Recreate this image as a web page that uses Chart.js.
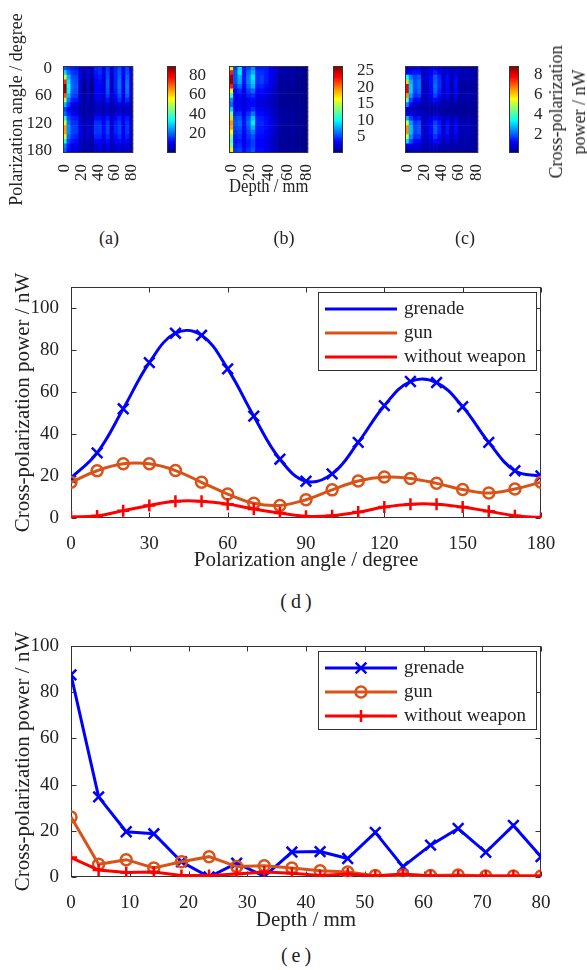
<!DOCTYPE html>
<html>
<head>
<meta charset="utf-8">
<title>Cross-polarization power</title>
<script src="https://cdn.jsdelivr.net/npm/chart.js@4.4.1/dist/chart.umd.min.js"></script>
<style>
html,body{margin:0;padding:0;background:#fff;}
#page{position:relative;width:587px;height:970px;overflow:hidden;background:#fff;font-family:'Liberation Serif','Times New Roman',serif;color:#222;}
#page canvas{position:absolute;}
.lbl{position:absolute;white-space:nowrap;line-height:1;transform:translate(-50%,-50%);}
</style>
</head>
<body>
<div id="page">
  <canvas id="hmA" width="155" height="215" style="left:0px;top:0px"></canvas>
  <canvas id="cbA" width="50" height="200" style="left:160px;top:0px"></canvas>
  <canvas id="hmB" width="140" height="200" style="left:190px;top:0px"></canvas>
  <canvas id="cbB" width="50" height="200" style="left:326px;top:0px"></canvas>
  <canvas id="hmC" width="130" height="200" style="left:370px;top:0px"></canvas>
  <canvas id="cbC" width="45" height="200" style="left:502px;top:0px"></canvas>
  <div class="lbl" style="left:568px;top:112px;font-size:18px;line-height:23px;text-align:center;transform:translate(-50%,-50%) rotate(-90deg)">Cross-polarization<br>power / nW</div>
  <div class="lbl" style="left:109px;top:238px;font-size:18px">(a)</div>
  <div class="lbl" style="left:284px;top:238px;font-size:18px">(b)</div>
  <div class="lbl" style="left:465px;top:238px;font-size:18px">(c)</div>
  <canvas id="chartD" width="587" height="313" style="left:0px;top:260px"></canvas>
  <div class="lbl" style="left:298px;top:601px;font-size:20px;letter-spacing:4px">(d)</div>
  <canvas id="chartE" width="587" height="313" style="left:0px;top:620px"></canvas>
  <div class="lbl" style="left:298px;top:955px;font-size:20px;letter-spacing:4px">(e)</div>
</div>
<script>
// ---------------- data ----------------
const seriesNames = ['grenade', 'gun', 'without weapon'];

// heat maps (a)(b)(c): rows = polarization angle, columns = depth
const heatAngles = [0,10,20,30,40,50,60,70,80,90,100,110,120,130,140,150,160,170,180];
const heatDepths = [0,4.7,9.4,14.1,18.8,23.5,28.2,32.9,37.6,42.4,47.1,51.8,56.5,61.2,65.9,70.6,75.3,80];
const angleTicks = [0,60,120,180];
const depthTicks = [0,20,40,60,80];

const grenadeMap = [
  [19,16,14,13,8,5,7,6,14,15,10,16,8,14,18,12,17,9],
  [31,20,16,15,8,4,7,5,13,15,10,17,7,14,19,12,18,9],
  [52,27,18,17,8,3,7,4,12,13,9,18,6,14,20,11,20,9],
  [74,32,19,18,7,2,6,2,11,12,8,19,5,14,21,11,21,9],
  [88,35,20,19,7,0,6,0,11,11,8,19,5,14,21,11,22,9],
  [87,33,19,18,7,1,6,1,11,11,8,18,5,13,20,10,21,8],
  [71,28,17,16,6,2,6,2,10,10,7,16,5,12,18,10,19,8],
  [48.5,22,14,13,6,3,5,3,9,9,6,13,5,10,15,8,15,7],
  [28,16,10,9,5,3,4,3,6,6,5,8,4,7,9,6,9,5],
  [17.5,12,8,7,4,3,4,3,5,5,4,6,4,5,6,5,6,4],
  [21,14,10,9,5,3,4,3,7,7,5,8,4,7,9,6,8,5],
  [36,18,14,13,7,4,5,4,12,12,9,13,6,11,14,9,13,7],
  [53.5,22,16,15,8,5,6,5,15,15,11,16,7,13,16,10,15,8],
  [65,24,17,16,9,5,7,6,16,16,12,17,7,14,17,11,16,8],
  [64.5,24,17,16,9,5,7,6,16,16,12,17,7,14,17,11,16,8],
  [53,21,15,14,8,5,6,5,14,14,10,15,7,12,15,10,14,7],
  [36,17,13,12,7,4,5,4,11,11,8,12,6,10,12,8,11,6],
  [22.5,13,10,9,6,4,4,3,8,8,6,9,5,7,9,6,8,5],
  [20,12,9,8,5,3,4,3,7,7,5,8,4,6,8,5,7,4]
];
const gunMap = [
  [17,5,9,4,5,7,4,4,4,3,2.5,1.2,1.2,1,1.2,0.8,0.8,0.6],
  [22.5,5.5,9.5,4,6,8,4.5,4.5,4,3,2.5,1,1.2,0.9,1.1,0.7,0.7,0.5],
  [25.8,5.5,8,4,6.6,9.5,4.5,5,4,2.8,2.3,0.7,1,0.7,1,0.5,0.5,0.4],
  [25.8,5.5,7.5,3.9,6.6,8.8,4.5,4.9,3.9,2.7,2.2,0.6,0.9,0.6,0.9,0.4,0.4,0.4],
  [22.6,4.5,6,3.5,6,8,4,4.2,3.5,2.5,2,0.6,0.8,0.6,0.8,0.4,0.4,0.4],
  [17,3.5,4.5,3,5,6,3.5,3.5,3,2.2,1.8,0.6,0.7,0.5,0.7,0.4,0.4,0.4],
  [11.4,3,3.5,2.5,4,4.5,3,3,2.5,2,1.5,0.6,0.6,0.5,0.6,0.4,0.4,0.4],
  [7,2.5,3,2.2,3,3.5,2.5,2.5,2.2,1.8,1.4,0.6,0.6,0.5,0.6,0.4,0.4,0.4],
  [6,2.5,3,2.2,3,3.5,2.5,2.5,2.2,1.8,1.4,0.6,0.6,0.5,0.6,0.4,0.4,0.4],
  [8.7,3,3.5,2.5,3.5,4.5,3,3,2.5,2,1.5,0.7,0.7,0.5,0.7,0.5,0.4,0.4],
  [13.4,4,4.5,3,4.5,6.5,3.5,3.5,3,2.2,1.7,0.8,0.8,0.6,0.8,0.5,0.5,0.4],
  [17.6,5,5.5,3.5,5.5,8.5,4,4,3.5,2.5,2,0.9,0.9,0.7,0.9,0.5,0.5,0.5],
  [19.5,5.5,6,3.8,6,9.5,4.2,4.3,3.6,2.6,2.1,0.9,0.9,0.7,0.9,0.5,0.5,0.5],
  [18.8,5,5.5,3.6,5.5,8,4,4,3.5,2.5,2,0.9,0.9,0.7,0.9,0.5,0.5,0.5],
  [16.5,4.5,5,3.4,5,6.5,3.8,3.8,3.3,2.4,1.9,0.8,0.8,0.6,0.8,0.5,0.5,0.4],
  [13.6,4,4.5,3.2,4.5,5.5,3.5,3.5,3,2.2,1.8,0.8,0.8,0.6,0.8,0.5,0.5,0.4],
  [11.9,3.5,4,3,4,5,3.2,3.2,2.8,2,1.6,0.7,0.7,0.5,0.7,0.4,0.4,0.4],
  [13.8,4,4.5,3.2,4,5,3.2,3.2,2.8,2,1.6,0.7,0.7,0.5,0.7,0.4,0.4,0.4],
  [17,4.5,5,3.5,4.5,5.5,3.5,3.5,3,2.2,1.8,0.8,0.8,0.6,0.8,0.5,0.5,0.4]
];
const noWeaponMap = [
  [0.5,0.9,1.1,1.1,0.7,0.8,1.0,1.1,0.9,0.7,0.9,0.6,0.8,0.6,0.6,0.6,0.5,0.5],
  [1.0,1.3,1.4,1.4,0.8,0.9,1.1,1.5,1.1,0.7,1.0,0.6,0.9,0.6,0.6,0.6,0.5,0.5],
  [3.5,2.3,1.8,2.0,0.8,0.9,1.3,2.0,1.5,0.8,1.3,0.6,1.2,0.6,0.6,0.6,0.6,0.5],
  [6.0,2.8,1.9,2.2,0.7,0.8,1.3,2.1,1.6,0.7,1.3,0.5,1.3,0.5,0.5,0.5,0.5,0.5],
  [8.0,3.0,1.9,2.2,0.7,0.7,1.3,2.2,1.6,0.7,1.3,0.4,1.3,0.4,0.4,0.4,0.4,0.4],
  [8.0,3.0,1.8,2.1,0.7,0.7,1.3,2.1,1.5,0.7,1.2,0.5,1.2,0.5,0.5,0.5,0.5,0.5],
  [6.6,2.6,1.6,1.8,0.7,0.8,1.1,1.8,1.3,0.7,1.1,0.5,1.0,0.5,0.5,0.5,0.5,0.5],
  [4.3,1.9,1.2,1.3,0.6,0.7,0.9,1.3,1.0,0.6,0.8,0.5,0.8,0.5,0.5,0.5,0.5,0.5],
  [2.4,1.2,0.8,0.8,0.5,0.6,0.6,0.8,0.6,0.5,0.6,0.4,0.5,0.4,0.4,0.4,0.4,0.4],
  [0.8,0.7,0.6,0.6,0.5,0.5,0.5,0.5,0.5,0.4,0.4,0.4,0.4,0.4,0.4,0.4,0.4,0.4],
  [1.1,0.9,0.8,0.8,0.6,0.6,0.6,0.7,0.6,0.5,0.5,0.4,0.5,0.4,0.4,0.4,0.4,0.4],
  [2.8,1.8,1.3,1.4,0.7,0.8,1.0,1.3,1.1,0.7,1.0,0.5,0.9,0.5,0.5,0.5,0.5,0.5],
  [5.2,2.6,1.7,1.9,0.8,0.9,1.2,1.8,1.4,0.8,1.3,0.6,1.2,0.6,0.6,0.6,0.5,0.5],
  [6.6,2.9,1.8,2.0,0.8,0.9,1.3,2.0,1.5,0.8,1.4,0.6,1.3,0.6,0.6,0.6,0.6,0.5],
  [6.6,2.9,1.8,2.0,0.8,0.9,1.3,2.0,1.5,0.8,1.4,0.6,1.3,0.6,0.6,0.6,0.6,0.5],
  [5.2,2.5,1.6,1.7,0.8,0.8,1.1,1.7,1.3,0.7,1.2,0.6,1.1,0.6,0.6,0.6,0.5,0.5],
  [3.2,1.9,1.3,1.3,0.7,0.7,0.9,1.3,1.0,0.6,0.9,0.5,0.8,0.5,0.5,0.5,0.5,0.5],
  [1.1,1.1,0.9,0.9,0.6,0.6,0.7,0.8,0.7,0.5,0.6,0.5,0.6,0.5,0.5,0.5,0.5,0.5],
  [0.3,0.7,0.7,0.7,0.5,0.5,0.5,0.6,0.5,0.4,0.5,0.4,0.5,0.4,0.4,0.4,0.4,0.4]
];
const grenadeBarTicks = [20,40,60,80];
const gunBarTicks = [5,10,15,20,25];
const noWeaponBarTicks = [2,4,6,8];

// (d) power versus polarization angle
const anglesD = [0,10,20,30,40,50,60,70,80,90,100,110,120,130,140,150,160,170,180];
const grenadeD = [19,31,52,74,88,87,71,48.5,28,17.5,21,36,53.5,65,64.5,53,36,22.5,20];
const gunD = [17,22.5,25.8,25.8,22.6,17,11.4,7,6,8.7,13.4,17.6,19.5,18.8,16.5,13.6,11.9,13.8,17];
const noWeaponD = [0.5,1,3.5,6,8,8,6.6,4.3,2.4,0.8,1.1,2.8,5.2,6.6,6.6,5.2,3.2,1.1,0.3];
const xTicksD = [0,30,60,90,120,150,180];
const yTicksD = [0,20,40,60,80,100];

// (e) power versus depth
const depthsE = [0,4.7,9.4,14.1,18.8,23.5,28.2,32.9,37.6,42.4,47.1,51.8,56.5,61.2,65.9,70.6,75.3,80];
const grenadeE = [87.5,34.7,19.6,18.7,6.6,0,6,0.3,10.8,11,8,19.3,4.5,13.8,21,10.7,22.3,8.8];
const gunE = [26,5.5,7.5,3.9,6.6,8.8,4.5,4.9,3.9,2.7,2.2,0.6,0.9,0.6,0.9,0.4,0.4,0.4];
const noWeaponE = [8.4,3,1.9,2.2,0.7,0.7,1.3,2.2,1.6,0.7,1.3,0.4,1.3,0.4,0.4,0.4,0.4,0.4];
const xTicksE = [0,10,20,30,40,50,60,70,80];
const yTicksE = [0,20,40,60,80,100];

// ---------------- drawing ----------------
const SERIF = "'Liberation Serif','Times New Roman',serif";
Chart.defaults.font.family = SERIF;
Chart.defaults.color = '#222';
const INK = '#333';

function jet(t) {
  t = Math.max(0, Math.min(1, t));
  const c = v => Math.round(255 * Math.max(0, Math.min(1, v)));
  return 'rgb(' + c(1.5 - Math.abs(4*t - 3)) + ',' + c(1.5 - Math.abs(4*t - 2)) + ',' + c(1.5 - Math.abs(4*t - 1)) + ')';
}

function drawFrame(chart, o) {
  const {ctx, chartArea: a} = chart;
  ctx.save();
  ctx.strokeStyle = INK; ctx.lineWidth = 1;
  const L = Math.round(a.left) + 0.5, R = Math.round(a.right) - 0.5;
  const T = Math.round(a.top) + 0.5, B = Math.round(a.bottom) - 0.5;
  ctx.strokeRect(L, T, R - L, B - T);
  if (o.tick) {
    const t = o.tick, xs = chart.scales.x, ys = chart.scales.y;
    ctx.beginPath();
    xs.ticks.forEach(k => { const p = Math.round(xs.getPixelForValue(k.value)) + 0.5;
      ctx.moveTo(p, B); ctx.lineTo(p, B - t); ctx.moveTo(p, T); ctx.lineTo(p, T + t); });
    ys.ticks.forEach(k => { const p = Math.round(ys.getPixelForValue(k.value)) + 0.5;
      ctx.moveTo(L, p); ctx.lineTo(L + t, p); ctx.moveTo(R, p); ctx.lineTo(R - t, p); });
    ctx.stroke();
  }
  ctx.restore();
}
const framePlugin = {
  id: 'frame',
  beforeDatasetsDraw(chart, args, o) { if (o && o.under) drawFrame(chart, o); },
  afterDatasetsDraw(chart, args, o) { if (!o || !o.under) drawFrame(chart, o || {}); }
};

function drawMarker(ctx, style, x, y, r) {
  ctx.beginPath();
  if (style === 'circle') { ctx.arc(x, y, r, 0, Math.PI * 2); }
  else if (style === 'crossRot') { const d = r * Math.SQRT1_2;
    ctx.moveTo(x - d, y - d); ctx.lineTo(x + d, y + d); ctx.moveTo(x - d, y + d); ctx.lineTo(x + d, y - d); }
  else { ctx.moveTo(x - r, y); ctx.lineTo(x + r, y); ctx.moveTo(x, y - r); ctx.lineTo(x, y + r); }
  ctx.stroke();
}
const boxLegend = {
  id: 'boxLegend',
  afterDraw(chart, args, o) {
    const {ctx, chartArea: a} = chart;
    const W = 219, H = 79;
    const x0 = Math.round(a.right) - 4 - W, y0 = Math.round(a.top) + 5;
    ctx.save();
    ctx.fillStyle = '#fff'; ctx.fillRect(x0, y0, W, H);
    ctx.strokeStyle = INK; ctx.lineWidth = 1; ctx.strokeRect(x0 + 0.5, y0 + 0.5, W - 1, H - 1);
    chart.data.datasets.forEach((ds, i) => {
      const y = y0 + 17 + i * 24;
      ctx.strokeStyle = ds.borderColor; ctx.lineWidth = 3;
      ctx.beginPath(); ctx.moveTo(x0 + 7, y); ctx.lineTo(x0 + 79, y); ctx.stroke();
      if (o && o.markers) { ctx.lineWidth = ds.pointBorderWidth; drawMarker(ctx, ds.pointStyle, x0 + 43, y, ds.pointRadius); }
      ctx.fillStyle = '#222'; ctx.font = '19px ' + SERIF; ctx.textBaseline = 'middle'; ctx.textAlign = 'left';
      ctx.fillText(ds.label, x0 + 86, y);
    });
    ctx.restore();
  }
};

function fixedTicks(arr) { return s => { s.ticks = arr.map(v => ({value: v})); }; }

function heatChart(id, matrix, cmin, cmax, o) {
  const data = [];
  matrix.forEach((row, i) => row.forEach((v, j) => data.push({x: heatDepths[j], y: [heatAngles[i] - 5, heatAngles[i] + 5], v: v})));
  return new Chart(document.getElementById(id), {
    type: 'bar',
    data: {datasets: [{data: data, borderWidth: 0, barPercentage: 1, categoryPercentage: 1, clip: 0,
      backgroundColor: c => (c.raw ? jet((c.raw.v - cmin) / (cmax - cmin)) : '#00008f')}]},
    options: {
      responsive: false, animation: false, devicePixelRatio: 1,
      layout: {padding: o.padding},
      plugins: {legend: {display: false}, tooltip: {enabled: false}, frame: {}},
      scales: {
        x: {type: 'linear', offset: false, min: -2.35, max: 82.35,
            grid: {display: false, offset: false}, border: {display: false},
            afterBuildTicks: fixedTicks(depthTicks),
            afterFit: s => { s.height = o.xh; },
            ticks: {minRotation: 90, maxRotation: 90, autoSkip: false, font: {size: 17}, padding: 3, color: '#222'},
            title: o.xTitle ? {display: true, text: o.xTitle, font: {size: 18}, padding: {top: 0, bottom: 2}, color: '#222'} : {display: false}},
        y: {type: 'linear', reverse: true, min: -5, max: 185, display: !!o.yTitle,
            grid: {display: false}, border: {display: false},
            afterBuildTicks: fixedTicks(angleTicks),
            afterFit: s => { s.width = o.yw || 0; },
            ticks: {font: {size: 17}, padding: 3, autoSkip: false, color: '#222'},
            title: o.yTitle ? {display: true, text: o.yTitle, font: {size: 18}, padding: {top: 6, bottom: 0}, color: '#222'} : {display: false}}
      }
    },
    plugins: [framePlugin]
  });
}

function colorbarChart(id, cmin, cmax, ticks, o) {
  return new Chart(document.getElementById(id), {
    type: 'bar',
    data: {labels: [''], datasets: [{data: [[cmin, cmax]], borderWidth: 0, barPercentage: 1, categoryPercentage: 1,
      backgroundColor: c => {
        const a = c.chart.chartArea; if (!a) return '#00f';
        const g = c.chart.ctx.createLinearGradient(0, a.bottom, 0, a.top);
        [0, 0.125, 0.375, 0.625, 0.875, 1].forEach(t => g.addColorStop(t, jet(t)));
        return g;
      }}]},
    options: {
      responsive: false, animation: false, devicePixelRatio: 1,
      layout: {padding: {left: 7, top: 66, right: 0, bottom: 47}},
      plugins: {legend: {display: false}, tooltip: {enabled: false}, frame: {}},
      scales: {
        x: {display: false},
        y: {position: 'right', min: cmin, max: cmax, grid: {display: false}, border: {display: false},
            afterBuildTicks: fixedTicks(ticks),
            afterFit: s => { s.width = o.yw; },
            ticks: {font: {size: 17}, padding: o.pad, autoSkip: false, color: '#222'}}
      }
    },
    plugins: [framePlugin]
  });
}

function lineChart(id, xs, series, xTicks, yTicks, xMax, yMax, xTitle, smooth, markers, padTop, xh) {
  const looks = [
    {color: '#0000ff', style: 'crossRot', r: 7.5, order: 2},
    {color: '#d95319', style: 'circle', r: 5.5, order: 1},
    {color: '#ff0000', style: 'cross', r: 6, order: 0}
  ];
  const datasets = series.map((ys, k) => ({
    label: seriesNames[k],
    data: ys.map((y, i) => ({x: xs[i], y: y})),
    borderColor: looks[k].color, backgroundColor: looks[k].color, borderWidth: 3,
    tension: smooth ? 0.4 : 0, fill: false, order: looks[k].order,
    pointStyle: looks[k].style, pointRadius: looks[k].r, pointBorderWidth: 2.5,
    pointBorderColor: looks[k].color, pointBackgroundColor: 'rgba(0,0,0,0)'
  }));
  return new Chart(document.getElementById(id), {
    type: 'line',
    data: {datasets: datasets},
    options: {
      responsive: false, animation: false, devicePixelRatio: 1,
      layout: {padding: {top: padTop, right: 46, left: 0, bottom: 0}},
      plugins: {legend: {display: false}, tooltip: {enabled: false}, frame: {under: true, tick: 5}, boxLegend: {markers: markers}},
      scales: {
        x: {type: 'linear', min: 0, max: xMax, grid: {display: false}, border: {display: false},
            afterBuildTicks: fixedTicks(xTicks),
            afterFit: s => { s.height = xh; },
            ticks: {font: {size: 19}, padding: 7, maxRotation: 0, autoSkip: false, color: '#222'},
            title: {display: true, text: xTitle, font: {size: 21}, padding: {top: 0, bottom: 0}, color: '#222'}},
        y: {type: 'linear', min: 0, max: yMax, grid: {display: false}, border: {display: false},
            afterBuildTicks: fixedTicks(yTicks),
            afterFit: s => { s.width = 71; },
            ticks: {font: {size: 19}, padding: 4, autoSkip: false, color: '#222'},
            title: {display: true, text: 'Cross-polarization power / nW', font: {size: 21}, padding: {top: 11, bottom: 0}, color: '#222'}}
      }
    },
    plugins: [framePlugin, boxLegend]
  });
}

heatChart('hmA', grenadeMap, 0, 89.6, {padding: {left: 0, top: 66, right: 6, bottom: 0}, xh: 62, yw: 63, yTitle: 'Polarization angle / degree'});
heatChart('hmB', gunMap, 0, 26.5, {padding: {left: 39, top: 66, right: 15, bottom: 0}, xh: 47, xTitle: 'Depth / mm'});
heatChart('hmC', noWeaponMap, 0.15, 8.9, {padding: {left: 35, top: 66, right: 9, bottom: 0}, xh: 47});
colorbarChart('cbA', 0, 89.6, grenadeBarTicks, {yw: 34, pad: 5});
colorbarChart('cbB', 0, 26.5, gunBarTicks, {yw: 33, pad: 6});
colorbarChart('cbC', 0.15, 8.9, noWeaponBarTicks, {yw: 28, pad: 7});

lineChart('chartD', anglesD, [grenadeD, gunD, noWeaponD], xTicksD, yTicksD, 180, 110, 'Polarization angle / degree', true, false, 27, 55);
lineChart('chartE', depthsE, [grenadeE, gunE, noWeaponE], xTicksE, yTicksE, 80, 100, 'Depth / mm', false, true, 26, 56);
</script>
</body>
</html>
